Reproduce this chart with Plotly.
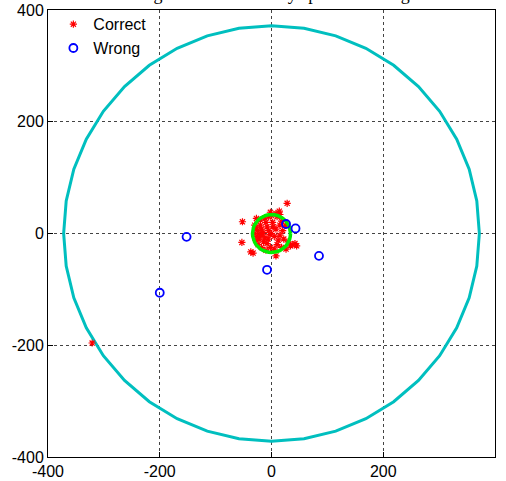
import numpy as np
import plotly.graph_objects as go

# ---- data ----
correct_x = [-321, 28, -52, -53, -37, -33, 8, 34, 42, 38, 45,
             8, 15, -5, 0, -27, -20,
             -28, -25, -30, -26, -22, -20, -18, -15, -17, -12, -14, -10, -8, -5, -3,
             -8, -2, 5, 10, 12, 15, 15, 8, 5, 20, 22, 18, 25, -24, -18, 2, -12, 10,
             -30, -28, -20, 0, 3, -6, 18, 26, 30, -10, 14, -2]
correct_y = [-196, 54, 21, -16, -33, -35, -40, -22, -18, -20, -22,
             36, 34, 30, 32, 27, 24,
             10, 5, 0, -5, -10, 15, 8, 2, -3, -8, -15, 20, 12, 5, -2,
             -18, -25, -28, -20, -12, -3, 15, 8, -5, 5, -10, 22, 15, -20, -25, 20, 28, 30,
             15, -12, -2, 0, 12, -10, -25, -28, -15, -30, 40, 38]
wrong_x = [-152, -200, -8, 26, 43, 85]
wrong_y = [-6, -106, -65, 17, 9, -40]

outer_center = (0, 0)
outer_radius = 372
inner_center = (0, 0)
inner_radius = 34
n_facets = 40

x_ticks = [-400, -200, 0, 200, 400]
y_ticks = [-400, -200, 0, 200, 400]
title_text = "Targets centers seen by spectral testing"

t = np.linspace(0, 2 * np.pi, n_facets + 1)

fig = go.Figure()
fig.add_trace(go.Scatter(
    x=outer_center[0] + outer_radius * np.cos(t),
    y=outer_center[1] + outer_radius * np.sin(t),
    mode="lines", line=dict(color="#00BFBF", width=3), showlegend=False, hoverinfo="skip"))
fig.add_trace(go.Scatter(
    x=correct_x, y=correct_y, mode="markers", name="Correct",
    marker=dict(symbol="asterisk-open", size=6, color="red", line=dict(color="red", width=1.2))))
fig.add_trace(go.Scatter(
    x=inner_center[0] + inner_radius * np.cos(t),
    y=inner_center[1] + inner_radius * np.sin(t),
    mode="lines", line=dict(color="#00EE00", width=3.5), showlegend=False, hoverinfo="skip"))
fig.add_trace(go.Scatter(
    x=wrong_x, y=wrong_y, mode="markers", name="Wrong",
    marker=dict(symbol="circle-open", size=8, color="blue", line=dict(color="blue", width=1.8))))

axis_common = dict(
    range=[-400, 400], showgrid=True, gridcolor="#444", griddash="3px,3px", gridwidth=1,
    zeroline=False, showline=True, linecolor="black", linewidth=1, mirror=True,
    ticks="inside", ticklen=5, tickcolor="black", automargin=False,
    tickfont=dict(family="Liberation Sans, Arial", size=16, color="black"),
)
fig.update_xaxes(**axis_common, tickvals=x_ticks, ticktext=[str(v) for v in x_ticks])
fig.update_yaxes(**axis_common, tickvals=y_ticks, ticktext=[str(v) for v in y_ticks])

fig.update_layout(
    width=506, height=481,
    margin=dict(l=48, r=11, t=10, b=24, autoexpand=False),
    plot_bgcolor="white", paper_bgcolor="white",
    showlegend=True,
    legend=dict(x=0.012, y=1.006, xanchor="left", yanchor="top", bgcolor="rgba(0,0,0,0)",
                font=dict(family="Liberation Sans, Arial", size=16, color="black"),
                itemwidth=30, tracegroupgap=0),
    annotations=[dict(text=title_text, xref="paper", yref="paper", x=0.178, y=1,
                      xanchor="left", yanchor="bottom", yshift=4, showarrow=False,
                      font=dict(family="Liberation Serif, Times New Roman", size=18, color="black"))],
)

fig.write_html("out.html", config={"displayModeBar": False},
               post_script="document.body.style.margin='0px';")
